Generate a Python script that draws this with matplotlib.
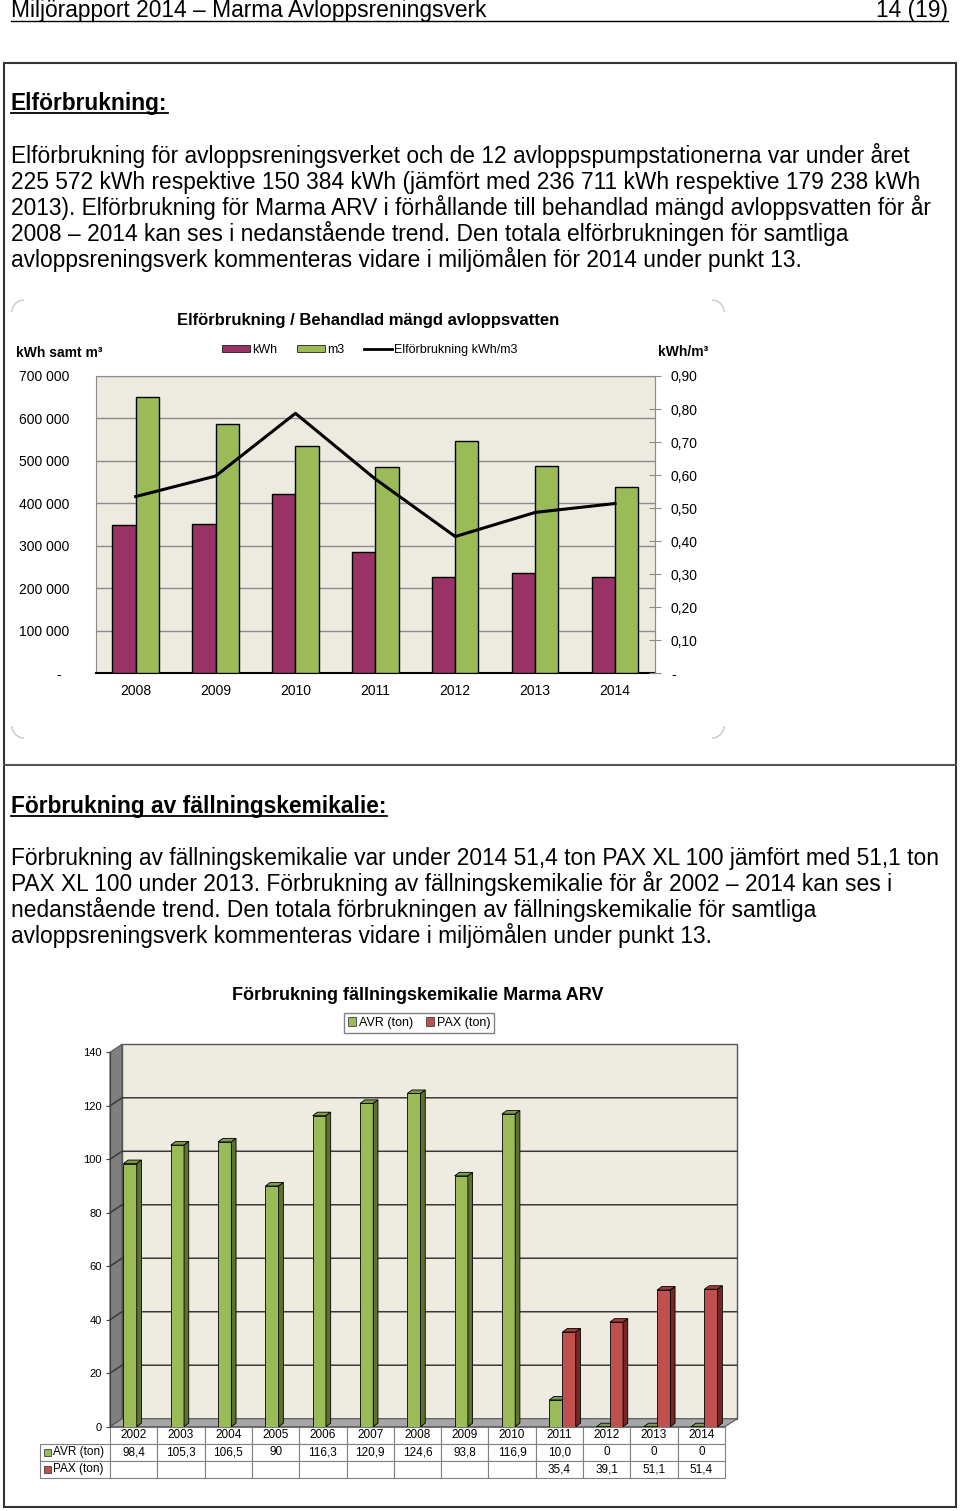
import numpy as np
import matplotlib as mpl
import matplotlib.pyplot as plt
import matplotlib.transforms as mtransforms
from matplotlib.patches import Rectangle, Polygon, Patch, Arc
from matplotlib.lines import Line2D

plt.rcParams['font.family'] = ['Liberation Sans', 'DejaVu Sans']

# ---- data: chart 1 (Elförbrukning / Behandlad mängd avloppsvatten)
years1 = ['2008', '2009', '2010', '2011', '2012', '2013', '2014']
kwh = [348000, 351000, 423000, 285000, 227000, 236711, 225572]
m3 = [651000, 587000, 536000, 485000, 546000, 487000, 439000]
kwh_per_m3 = [0.535, 0.597, 0.787, 0.588, 0.414, 0.487, 0.514]

# ---- data: chart 2 (Förbrukning fällningskemikalie Marma ARV)
years2 = ['2002', '2003', '2004', '2005', '2006', '2007', '2008',
          '2009', '2010', '2011', '2012', '2013', '2014']
avr = [98.4, 105.3, 106.5, 90, 116.3, 120.9, 124.6, 93.8, 116.9, 10.0, 0, 0, 0]
pax = [None] * 9 + [35.4, 39.1, 51.1, 51.4]
avr_txt = ['98,4', '105,3', '106,5', '90', '116,3', '120,9', '124,6',
           '93,8', '116,9', '10,0', '0', '0', '0']
pax_txt = [''] * 9 + ['35,4', '39,1', '51,1', '51,4']

para1 = [
    'Elförbrukning för avloppsreningsverket och de 12 avloppspumpstationerna var under året',
    '225 572 kWh respektive 150 384 kWh (jämfört med 236 711 kWh respektive 179 238 kWh',
    '2013). Elförbrukning för Marma ARV i förhållande till behandlad mängd avloppsvatten för år',
    '2008 – 2014 kan ses i nedanstående trend. Den totala elförbrukningen för samtliga',
    'avloppsreningsverk kommenteras vidare i miljömålen för 2014 under punkt 13.',
]
para2 = [
    'Förbrukning av fällningskemikalie var under 2014 51,4 ton PAX XL 100 jämfört med 51,1 ton',
    'PAX XL 100 under 2013. Förbrukning av fällningskemikalie för år 2002 – 2014 kan ses i',
    'nedanstående trend. Den totala förbrukningen av fällningskemikalie för samtliga',
    'avloppsreningsverk kommenteras vidare i miljömålen under punkt 13.',
]

KWH_C = '#993366'
M3_C = '#9BBB59'
AVR_C, AVR_TOP, AVR_SIDE = '#9BBB59', '#7E9A48', '#5C722E'
PAX_C, PAX_TOP, PAX_SIDE = '#C0504D', '#9E3C3A', '#742826'
BODY = 16.4

W, H = 960, 1511
fig = plt.figure(figsize=(W / 100, H / 100), dpi=100)
# pixel coords, origin top-left
px = mtransforms.Affine2D().scale(1 / W, -1 / H).translate(0, 1) + fig.transFigure


def ftext(x, y, s, **kw):
    return fig.text(x, y, s, transform=px, **kw)


def fline(xs, ys, **kw):
    fig.add_artist(Line2D(xs, ys, transform=px, **kw))


renderer = fig.canvas.get_renderer()


def underline(t, y, lw=1.3):
    bb = t.get_window_extent(renderer)
    fline([bb.x0, bb.x1], [y, y], color='black', lw=lw)


# ---- page header and frame
ftext(11, 17, 'Miljörapport 2014 – Marma Avloppsreningsverk', fontsize=BODY, va='baseline')
ftext(948, 17, '14 (19)', fontsize=BODY, va='baseline', ha='right')
fline([11, 948], [20.5, 20.5], color='black', lw=1)

fig.add_artist(Rectangle((4, 63), 952, 1444, transform=px, fill=False,
                         edgecolor='#333333', lw=1.5))
fline([4, 956], [765, 765], color='#555555', lw=1.5)

# ---- section 1 text
t = ftext(11, 110, 'Elförbrukning:', fontsize=BODY, fontweight='bold', va='baseline')
underline(t, 113)
for i, s in enumerate(para1):
    ftext(11, 163 + 26 * i, s, fontsize=BODY, va='baseline')

# ---- chart 1
for cx, cy, a1, a2 in [(24, 312, 180, 270), (712, 312, 270, 360),
                       (24, 726, 90, 180), (712, 726, 0, 90)]:
    fig.add_artist(Arc((cx, cy), 24, 24, theta1=a1, theta2=a2, transform=px,
                       color='#C8C8C8', lw=1))

ax1 = fig.add_axes([95.7 / W, 1 - 673.3 / H, (655 - 95.7) / W, (673.3 - 376) / H])
x = np.arange(len(years1))
w = 0.29
ax1.bar(x - w / 2, kwh, w, color=KWH_C, edgecolor='black', lw=1, zorder=3)
ax1.bar(x + w / 2, m3, w, color=M3_C, edgecolor='black', lw=1, zorder=3)
ax1.set_xlim(-0.5, 6.5)
ax1.set_ylim(0, 700000)
ax1.set_facecolor('#EDEAE0')
ax1.yaxis.grid(True, color='#8C8C8C', lw=1)
ax1.set_axisbelow(True)
yt = list(range(0, 700001, 100000))
ax1.set_yticks(yt, ['-  '] + [f'{v // 1000} 000' for v in yt[1:]])
ax1.tick_params(axis='y', length=0, pad=19, labelsize=10)
ax1.set_xticks(x, years1)
ax1.tick_params(axis='x', length=0, pad=8, labelsize=10)
for side in ['top', 'left', 'right']:
    ax1.spines[side].set_color('#8C8C8C')
ax1.spines['bottom'].set_color('black')
ax1.spines['bottom'].set_linewidth(1.5)

ax1b = ax1.twinx()
ax1b.plot(x, kwh_per_m3, color='black', lw=2.2, zorder=5)
ax1b.set_ylim(0, 0.9)
rt = np.round(np.arange(0, 0.91, 0.1), 2)
ax1b.set_yticks(rt, ['-'] + [f'{v:.2f}'.replace('.', ',') for v in rt[1:]])
ax1b.tick_params(axis='y', direction='inout', length=8, color='#8C8C8C', pad=7.5, labelsize=10)
ax1b.spines['right'].set_color('#8C8C8C')
for side in ['top', 'left', 'bottom']:
    ax1b.spines[side].set_visible(False)

ftext(368, 320, 'Elförbrukning / Behandlad mängd avloppsvatten', fontsize=12,
      fontweight='bold', ha='center', va='center')
ftext(16, 353, 'kWh samt m³', fontsize=10, fontweight='bold', va='center')
ftext(658, 352, 'kWh/m³', fontsize=10, fontweight='bold', va='center')
h1 = [Patch(facecolor=KWH_C, edgecolor='black', lw=0.5),
      Patch(facecolor=M3_C, edgecolor='black', lw=0.5),
      Line2D([], [], color='black', lw=2)]
ax1.legend(h1, ['kWh', 'm3', 'Elförbrukning kWh/m3'], loc='center',
           bbox_to_anchor=(370, 350), bbox_transform=px, ncol=3, frameon=False,
           fontsize=9, handlelength=2.2, handleheight=0.5, handletextpad=0.2,
           columnspacing=1.6)

# ---- section 2 text
t = ftext(11, 813, 'Förbrukning av fällningskemikalie:', fontsize=BODY, fontweight='bold',
          va='baseline')
underline(t, 816)
for i, s in enumerate(para2):
    ftext(11, 865 + 26 * i, s, fontsize=BODY, va='baseline')

# ---- chart 2 (pseudo 3D column chart with data table)
ax2 = fig.add_axes([110 / W, 1 - 1426.7 / H, 615 / W, 374.4 / H])
ax2.set_xlim(-0.5, 12.5)
ax2.set_ylim(0, 140)
DX, DY = 12 / 47.3, 8 / (374.4 / 140)      # wall depth in data units
BX, BY = 4.7 / 47.3, 3.5 / (374.4 / 140)   # bar depth
ax2.patch.set_visible(False)
ax2.add_patch(Rectangle((-0.5 + DX, DY), 13, 140, facecolor='#EEEBE0',
                        edgecolor='#555555', lw=1, clip_on=False, zorder=0))
ax2.add_patch(Polygon([(-0.5, 0), (-0.5 + DX, DY), (-0.5 + DX, 140 + DY), (-0.5, 140)],
                      facecolor='#7F7F7F', edgecolor='#555555', lw=0.8, clip_on=False, zorder=1))
ax2.add_patch(Polygon([(-0.5, 0), (12.5, 0), (12.5 + DX, DY), (-0.5 + DX, DY)],
                      facecolor='#A6A6A6', edgecolor='#555555', lw=0.8, clip_on=False, zorder=1))
for v in range(20, 140, 20):
    ax2.plot([-0.5, -0.5 + DX, 12.5 + DX], [v, v + DY, v + DY], color='#3A3A3A',
             lw=1.1, clip_on=False, zorder=1.5)


def bars3d(xs, hs, width, front, top, side, z):
    for xi, h in zip(xs, hs):
        if h is None:
            continue
        l, r = xi - width / 2, xi + width / 2
        ax2.add_patch(Rectangle((l, 0), width, h, facecolor=front, edgecolor='black',
                                lw=0.6, zorder=z))
        ax2.add_patch(Polygon([(l, h), (l + BX, h + BY), (r + BX, h + BY), (r, h)],
                              facecolor=top, edgecolor='black', lw=0.6, zorder=z))
        ax2.add_patch(Polygon([(r, 0), (r + BX, BY), (r + BX, h + BY), (r, h)],
                              facecolor=side, edgecolor='black', lw=0.6, zorder=z))


x2 = np.arange(len(years2))
bars3d(x2 - 0.075, avr, 0.28, AVR_C, AVR_TOP, AVR_SIDE, 3)
bars3d(x2 + 0.205, pax, 0.28, PAX_C, PAX_TOP, PAX_SIDE, 4)

ax2.set_yticks(range(0, 141, 20))
ax2.tick_params(axis='y', length=3, pad=3, labelsize=8, color='#404040')
ax2.set_xticks([])
for side in ['top', 'right', 'bottom']:
    ax2.spines[side].set_visible(False)
ax2.spines['left'].set_color('#404040')

# data table: first column holds the series names
cells = [['AVR (ton)'] + avr_txt, ['PAX (ton)'] + pax_txt]
tbl = ax2.table(cellText=cells, colLabels=[''] + years2, cellLoc='center',
                colWidths=[70 / 685] + [47.3 / 685] * 13,
                bbox=[-70 / 615, -51 / 374.4, 685 / 615, 51 / 374.4])
tbl.auto_set_font_size(False)
tbl.set_fontsize(8.5)
for (r, c), cell in tbl.get_celld().items():
    cell.set_edgecolor('#808080')
    cell.set_linewidth(0.8)
    if c == 0:
        cell.get_text().set_horizontalalignment('left')
        cell.PAD = 0.19
        if r == 0:
            cell.set_linewidth(0)
fig.add_artist(Rectangle((44, 1449), 7, 7, transform=px, facecolor=AVR_C,
                         edgecolor='#404040', lw=0.6))
fig.add_artist(Rectangle((44, 1466), 7, 7, transform=px, facecolor=PAX_C,
                         edgecolor='#404040', lw=0.6))

ftext(418, 995, 'Förbrukning fällningskemikalie Marma ARV', fontsize=13,
      fontweight='bold', ha='center', va='center')
h2 = [Patch(facecolor=AVR_C, edgecolor='#404040', lw=0.6),
      Patch(facecolor=PAX_C, edgecolor='#404040', lw=0.6)]
ax2.legend(h2, ['AVR (ton)', 'PAX (ton)'], loc='center', bbox_to_anchor=(419, 1023),
           bbox_transform=px, ncol=2, fontsize=9, frameon=True, fancybox=False,
           edgecolor='#808080', framealpha=1, handlelength=0.7, handleheight=0.7,
           handletextpad=0.2, columnspacing=1.0, borderpad=0.3)

fig.savefig('out.png', dpi=100)
